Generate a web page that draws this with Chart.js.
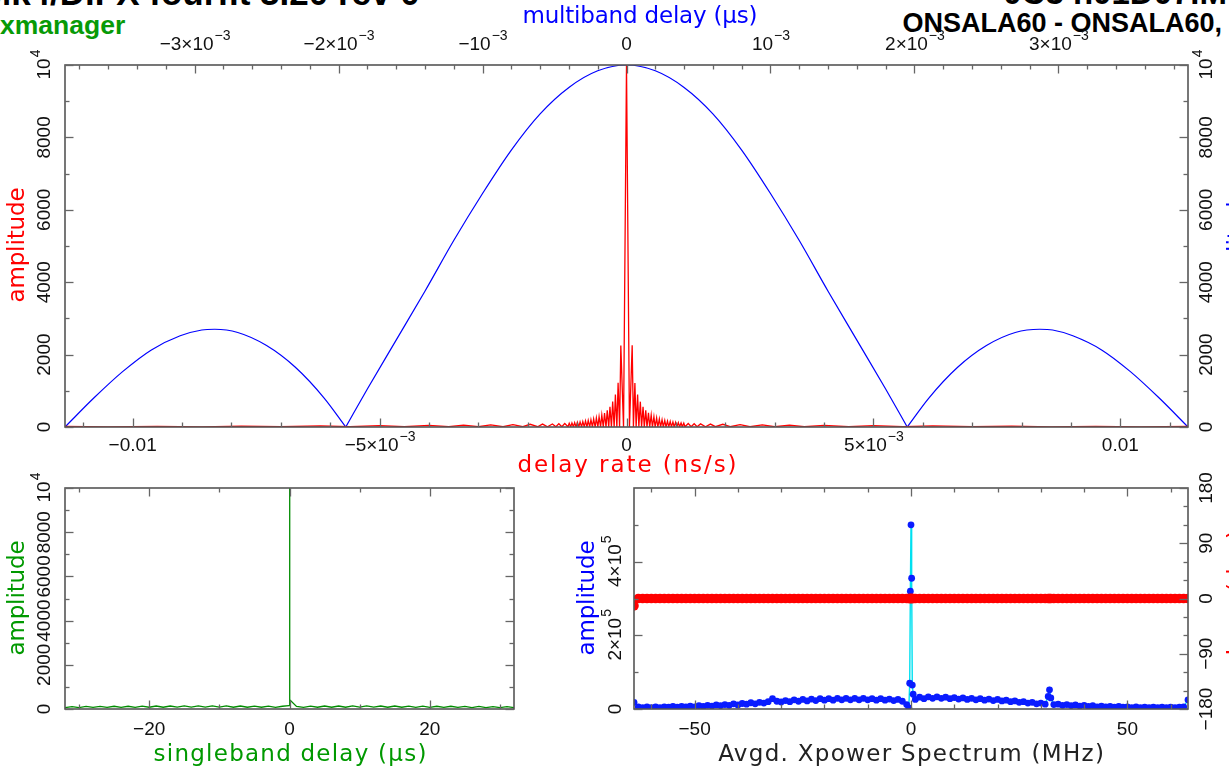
<!DOCTYPE html>
<html>
<head>
<meta charset="utf-8">
<script src="https://cdn.jsdelivr.net/npm/chart.js@4.4.1/dist/chart.umd.min.js"></script>
<style>
body { margin: 0; width: 1229px; height: 771px; overflow: hidden; background: #fff; position: relative; font-family: "Liberation Sans", Arial, sans-serif; }
canvas { position: absolute; left: 0; top: 0; }
.hd { position: absolute; font-weight: bold; white-space: nowrap; line-height: 1; }
</style>
</head>
<body>
<div class="hd" style="left:-18px;top:-25px;font-size:35px;color:#000">Mk4/DiFX fourfit 3.20 rev 0</div>
<div class="hd" style="right:2px;top:-24px;font-size:33px;color:#000">0C3 h01D07.M</div>
<div class="hd" style="left:0;top:12px;font-size:26.5px;color:#079a07">xmanager</div>
<div class="hd" style="right:7px;top:10px;font-size:27px;color:#000">ONSALA60 - ONSALA60,</div>
<canvas id="top" width="1229" height="771"></canvas>
<canvas id="sbd" width="1229" height="771"></canvas>
<canvas id="xps" width="1229" height="771"></canvas>
<script>
// delay rate function, x in units of 1e-5 ns/s
const rateShift = [
    -1140, -1050, -950, -860, -780, -700, -620, -560, -500, -450,
    -400, -360, -330, -300, -275, -250, -230, -210, -195, -180,
    -170, -160, -150, -143, -137, -131, -125, -118.5, -116, -113,
    -110.5, -107.5, -105, -102, -99.5, -96.5, -94, -91, -88.5, -85.5,
    -83, -80, -77.5, -74.5, -72, -69, -66.5, -63.5, -61, -58,
    -55.5, -52.5, -50, -47, -44.5, -41.5, -39, -36, -33.5, -30.5,
    -28, -25, -22.5, -19.5, -17, -14, -11.5, -6,
    0,
    6, 11.5, 14, 17, 19.5, 22.5, 25, 28, 30.5, 33.5,
    36, 39, 41.5, 44.5, 47, 50, 52.5, 55.5, 58, 61,
    63.5, 66.5, 69, 72, 74.5, 77.5, 80, 83, 85.5, 88.5,
    91, 94, 96.5, 99.5, 102, 105, 107.5, 110.5, 113, 116,
    118.5, 125, 131, 137, 143, 150, 160, 170, 180, 195,
    210, 230, 250, 275, 300, 330, 360, 400, 450, 500,
    560, 620, 700, 780, 860, 950, 1040, 1140
]
const rateAmp = [
    14, 5, 18, 6, 24, 7, 30, 8, 38, 8,
    44, 9, 50, 9, 58, 9, 65, 9, 75, 8,
    80, 7, 85, 9, 90, 7, 96, 6, 104, 4,
    113, 5, 121, 4, 129, 5, 141, 4, 151, 6,
    167, 5, 181, 0, 201, 0, 221, 0, 252, 0,
    284, 0, 332, 0, 388, 0, 462, 0, 558, 0,
    705, 0, 895, 0, 1220, 0, 2250, 0,
    10000,
    0, 2260, 0, 1215, 0, 900, 0, 700, 0, 560,
    0, 460, 0, 390, 0, 330, 0, 285, 0, 250,
    0, 222, 0, 200, 0, 182, 5, 166, 5, 152,
    5, 140, 5, 130, 5, 120, 5, 112, 5, 105,
    5, 95, 8, 90, 8, 86, 8, 80, 9, 75,
    9, 65, 9, 58, 9, 50, 9, 44, 8, 38,
    8, 30, 7, 24, 6, 18, 5, 14
]

// multiband delay function, x in units of 1e-3 us (null splits the lobes)
const mbdDelay = [
    -3.9, -3.7, -3.5, -3.3, -3.1, -2.95, -2.86, -2.7, -2.5, -2.3, -2.1, -1.95,
    -1.95,
    -1.95, -1.8, -1.6, -1.4, -1.2, -1.0, -0.8, -0.6, -0.4, -0.2, 0,
    0.2, 0.4, 0.6, 0.8, 1.0, 1.2, 1.4, 1.6, 1.8, 1.95,
    1.95,
    1.95, 2.1, 2.3, 2.5, 2.7, 2.87, 2.96, 3.1, 3.3, 3.5, 3.7, 3.9
]
const mbdAmp = [
    0, 800, 1530, 2130, 2520, 2680, 2700, 2610, 2250, 1650, 800, 0,
    null,
    0, 1050, 2400, 3750, 5150, 6450, 7650, 8650, 9380, 9840, 10000,
    9840, 9380, 8650, 7650, 6450, 5150, 3750, 2400, 1050, 0,
    null,
    0, 800, 1650, 2250, 2610, 2700, 2680, 2520, 2130, 1530, 800, 0
]

// singleband delay function, us
const sbdDelay = [
    -32, -31, -30, -29, -28, -27, -26, -25, -24, -23, -22, -21, -20, -19, -18, -17,
    -16, -15, -14, -13, -12, -11, -10, -9, -8, -7, -6, -5, -4, -3, -2, -1,
    -0.06, 0, 0.06,
    1, 2, 3, 4, 5, 6, 7, 8, 9, 10, 11, 12, 13, 14, 15, 16,
    17, 18, 19, 20, 21, 22, 23, 24, 25, 26, 27, 28, 29, 30, 31, 32
]
const sbdAmp = [
    60, 110, 65, 115, 70, 120, 70, 125, 75, 125, 75, 130, 80, 135, 80, 135,
    85, 140, 85, 140, 85, 140, 85, 140, 80, 135, 80, 130, 80, 130, 75, 125,
    150, 10000, 420,
    120, 75, 130, 80, 135, 80, 135, 80, 140, 85, 140, 85, 135, 80, 135, 80,
    130, 75, 130, 75, 125, 70, 125, 70, 120, 65, 115, 65, 110, 60, 105, 60
]

// averaged cross power spectrum: MHz, amplitude in 1e4, phase in deg
const specFreq = [
    -64, -63, -62, -61, -60, -59, -58, -57, -56, -55, -54, -53, -52, -51, -50, -49,
    -48, -47, -46, -45, -44, -43, -42, -41, -40, -39, -38, -37, -36, -35, -34, -33,
    -32, -31, -30, -29, -28, -27, -26, -25, -24, -23, -22, -21, -20, -19, -18, -17,
    -16, -15, -14, -13, -12, -11, -10, -9, -8, -7, -6, -5, -4, -3, -2, -1,
    -0.5, -0.3, -0.15, 0, 0.15, 0.3, 0.5,
    1, 2, 3, 4, 5, 6, 7, 8, 9, 10, 11, 12, 13, 14, 15, 16,
    17, 18, 19, 20, 21, 22, 23, 24, 25, 26, 27, 28, 29, 30, 31,
    31.7, 32, 32.3,
    33, 34, 35, 36, 37, 38, 39, 40, 41, 42, 43, 44, 45, 46, 47, 48,
    49, 50, 51, 52, 53, 54, 55, 56, 57, 58, 59, 60, 61, 62, 63, 64
]
const specAmp = [
    1.8, 0.6, 0.4, 0.6, 0.4, 0.6, 0.4, 0.6, 0.5, 0.7, 0.5, 0.7, 0.6, 0.8, 0.6, 0.9,
    0.7, 1.0, 0.8, 1.1, 0.9, 1.2, 1.0, 1.4, 1.1, 1.5, 1.3, 1.7, 1.4, 1.8, 1.6, 2.0,
    2.8, 2.1, 1.9, 2.3, 2.0, 2.5, 2.1, 2.6, 2.2, 2.7, 2.3, 2.8, 2.4, 2.8, 2.4, 2.9,
    2.5, 2.9, 2.5, 2.9, 2.5, 2.9, 2.5, 2.8, 2.4, 2.8, 2.4, 2.7, 2.3, 2.6, 2.1, 1.2,
    0.3, 7.0, 32, 50, 35.5, 6.5, 4.0,
    2.6, 3.2, 2.8, 3.3, 2.9, 3.3, 2.9, 3.2, 2.8, 3.1, 2.7, 3.0, 2.6, 2.9, 2.5, 2.8,
    2.4, 2.7, 2.3, 2.6, 2.2, 2.4, 2.0, 2.2, 1.8, 2.0, 1.6, 1.8, 1.4, 1.6, 1.3,
    3.4, 5.2, 3.0,
    1.2, 1.3, 1.0, 1.2, 0.9, 1.1, 0.8, 1.0, 0.7, 0.9, 0.6, 0.8, 0.6, 0.7, 0.5, 0.7,
    0.5, 0.6, 0.4, 0.6, 0.4, 0.5, 0.4, 0.5, 0.4, 0.5, 0.4, 0.5, 0.4, 0.5, 0.6, 2.5
]
const specPhase = [
    -12, 0, 0, 0, 0, 0, 0, 0, 0, 0, 0, 0, 0, 0, 0, 0,
    0, 0, 0, 0, 0, 0, 0, 0, 0, 0, 0, 0, 0, 0, 0, 0,
    0, 0, 0, 0, 0, 0, 0, 0, 0, 0, 0, 0, 0, 0, 0, 0,
    0, 0, 0, 0, 0, 0, 0, 0, 0, 0, 0, 0, 0, 0, 0, 0,
    0, 0, 0, 0, 0, 0, 0,
    0, 0, 0, 0, 0, 0, 0, 0, 0, 0, 0, 0, 0, 0, 0, 0,
    0, 0, 0, 0, 0, 0, 0, 0, 0, 0, 0, 0, 0, 0, 0,
    0, 0, 0,
    0, 0, 0, 0, 0, 0, 0, 0, 0, 0, 0, 0, 0, 0, 0, 0,
    0, 0, 0, 0, 0, 0, 0, 0, 0, 0, 0, 0, 0, 0, 0, 0
]

// ticks and tick labels
const rateTicks = [-1000, -500, 0, 500, 1000]
const rateLabels = ['−0.01', '−5×10^−3', '0', '5×10^−3', '0.01']
const rateMinor = [-1100, -900, -800, -700, -600, -400, -300, -200, -100, 100, 200, 300, 400, 600, 700, 800, 900, 1100]
const mbdTicks = [-3, -2, -1, 0, 1, 2, 3]
const mbdLabels = ['−3×10^−3', '−2×10^−3', '−10^−3', '0', '10^−3', '2×10^−3', '3×10^−3']
const mbdMinor = [-3.8, -3.6, -3.4, -3.2, -2.8, -2.6, -2.4, -2.2, -1.8, -1.6, -1.4, -1.2, -0.8, -0.6, -0.4, -0.2,
    0.2, 0.4, 0.6, 0.8, 1.2, 1.4, 1.6, 1.8, 2.2, 2.4, 2.6, 2.8, 3.2, 3.4, 3.6, 3.8]
const ampTicks = [0, 2000, 4000, 6000, 8000, 10000]
const ampLabels = ['0', '2000', '4000', '6000', '8000', '10^4']
const ampMinor = [1000, 3000, 5000, 7000, 9000]
const sbdTicks = [-20, 0, 20]
const sbdLabels = ['−20', '0', '20']
const sbdMinor = [-30, -10, 10, 30]
const freqTicks = [-50, 0, 50]
const freqLabels = ['−50', '0', '50']
const freqMinor = [-60, -40, -30, -20, -10, 10, 20, 30, 40, 60]
const xpAmpTicks = [0, 20, 40]
const xpAmpLabels = ['0', '2×10^5', '4×10^5']
const xpAmpMinor = [10, 30, 50]
const phaseTicks = [-180, -90, 0, 90, 180]
const phaseLabels = ['−180', '−90', '0', '90', '180']
const phaseMinor = [-150, -120, -60, -30, 30, 60, 120, 150]

const TICK_FONT = '"Liberation Sans", Arial, sans-serif'
const TICK_SIZE = 19
const TITLE_FONT = '"DejaVu Sans", sans-serif'

// text centred on (x, y); "a^b" draws b as a superscript; optional target width w
function drawText(ctx, text, x, y, rot, size, family, w) {
    const parts = text.split('^')
    const ss = Math.round(size * 0.72)
    ctx.save()
    ctx.translate(x, y)
    if (rot) ctx.rotate(-Math.PI / 2)
    ctx.textBaseline = 'middle'
    ctx.textAlign = 'left'
    ctx.font = size + 'px ' + family
    let ls = 0
    if (w) {
        const m = ctx.measureText(parts[0]).width
        ls = (w - m) / parts[0].length
        ctx.letterSpacing = ls + 'px'
    }
    const w0 = ctx.measureText(parts[0]).width - ls
    let w1 = 0
    if (parts[1]) {
        ctx.font = ss + 'px ' + family
        w1 = ctx.measureText(parts[1]).width
    }
    const x0 = -(w0 + w1) / 2
    ctx.font = size + 'px ' + family
    ctx.fillText(parts[0], x0, 0)
    if (parts[1]) {
        ctx.font = ss + 'px ' + family
        ctx.fillText(parts[1], x0 + w0 + 1, -size * 0.45)
    }
    ctx.restore()
}

// PGPLOT-like box: frame, inward ticks, labels and axis titles
const pgBox = {
    id: 'pgBox',
    afterDatasetsDraw(chart, args, opts) {
        const ctx = chart.ctx
        const a = chart.chartArea
        ctx.save()
        ctx.strokeStyle = '#555'
        ctx.lineWidth = 1.6
        ctx.strokeRect(a.left, a.top, a.right - a.left, a.bottom - a.top)
        ctx.strokeStyle = '#666'
        ctx.lineWidth = 1.3
        opts.axes.forEach(function (ax) {
            const sc = chart.scales[ax.scale]
            ax.sides.forEach(function (side) {
                const mark = function (v, len) {
                    const p = Math.round(sc.getPixelForValue(v)) + 0.5
                    ctx.beginPath()
                    if (side === 'bottom') { ctx.moveTo(p, a.bottom); ctx.lineTo(p, a.bottom - len) }
                    if (side === 'top') { ctx.moveTo(p, a.top); ctx.lineTo(p, a.top + len) }
                    if (side === 'left') { ctx.moveTo(a.left, p); ctx.lineTo(a.left + len, p) }
                    if (side === 'right') { ctx.moveTo(a.right, p); ctx.lineTo(a.right - len, p) }
                    ctx.stroke()
                }
                ax.minor.forEach(function (v) { mark(v, 4.5) })
                ax.major.forEach(function (v) { mark(v, 8.5) })
            })
            ctx.fillStyle = '#111'
            ax.labels.forEach(function (t, i) {
                const p = sc.getPixelForValue(ax.major[i])
                const d = ax.gap
                if (ax.labelSide === 'bottom') drawText(ctx, t, p, a.bottom + d, false, TICK_SIZE, TICK_FONT)
                if (ax.labelSide === 'top') drawText(ctx, t, p, a.top - d, false, TICK_SIZE, TICK_FONT)
                if (ax.labelSide === 'left') drawText(ctx, t, a.left - d, p, true, TICK_SIZE, TICK_FONT)
                if (ax.labelSide === 'right') drawText(ctx, t, a.right + d, p, true, TICK_SIZE, TICK_FONT)
            })
        })
        opts.titles.forEach(function (t) {
            ctx.fillStyle = t.color
            drawText(ctx, t.text, t.x, t.y, t.rot, t.size, TITLE_FONT, t.w)
        })
        ctx.restore()
    }
}

function points(xs, ys) {
    return xs.map(function (x, i) { return { x: x, y: ys[i] } })
}

function hiddenLinear(min, max, position) {
    return { type: 'linear', min: min, max: max, position: position, display: false }
}

function makeChart(id, padding, datasets, scales, box) {
    return new Chart(document.getElementById(id), {
        type: 'line',
        data: { datasets: datasets },
        options: {
            responsive: false,
            animation: false,
            events: [],
            layout: { padding: padding },
            plugins: { legend: { display: false }, tooltip: { enabled: false }, pgBox: box },
            scales: scales
        },
        plugins: [pgBox]
    })
}

// fringe rate / multiband delay panel
makeChart('top', { left: 65, top: 65, right: 41, bottom: 344 }, [
    {
        data: points(rateShift, rateAmp), xAxisID: 'x', yAxisID: 'y',
        borderColor: '#ff0000', borderWidth: 1.3, pointRadius: 0, tension: 0
    },
    {
        data: points(mbdDelay, mbdAmp), xAxisID: 'x2', yAxisID: 'y',
        borderColor: '#0000ff', borderWidth: 1.2, pointRadius: 0,
        cubicInterpolationMode: 'monotone', spanGaps: false
    }
], {
    x: hiddenLinear(-1137, 1137, 'bottom'),
    x2: hiddenLinear(-3.9, 3.9, 'top'),
    y: hiddenLinear(0, 10000, 'left')
}, {
    axes: [
        { scale: 'x', sides: ['bottom'], major: rateTicks, minor: rateMinor, labels: rateLabels, labelSide: 'bottom', gap: 19 },
        { scale: 'x2', sides: ['top'], major: mbdTicks, minor: mbdMinor, labels: mbdLabels, labelSide: 'top', gap: 20 },
        { scale: 'y', sides: ['left'], major: ampTicks, minor: ampMinor, labels: ampLabels, labelSide: 'left', gap: 20 },
        { scale: 'y', sides: ['right'], major: ampTicks, minor: ampMinor, labels: ampLabels, labelSide: 'right', gap: 19 }
    ],
    titles: [
        { text: 'multiband delay (μs)', x: 640, y: 17, rot: false, size: 23, w: 235, color: '#0000ff' },
        { text: 'delay rate (ns/s)', x: 627, y: 466, rot: false, size: 23, w: 221, color: '#ff0000' },
        { text: 'amplitude', x: 18, y: 245, rot: true, size: 23, w: 115, color: '#ff0000' },
        { text: 'amplitude', x: 1238, y: 245, rot: true, size: 23, w: 115, color: '#0000ff' }
    ]
})

// singleband delay panel
makeChart('sbd', { left: 65, top: 488, right: 715, bottom: 62 }, [
    {
        data: points(sbdDelay, sbdAmp), xAxisID: 'x', yAxisID: 'y',
        borderColor: '#008c00', borderWidth: 1.3, pointRadius: 0, tension: 0
    }
], {
    x: hiddenLinear(-32, 32, 'bottom'),
    y: hiddenLinear(0, 10000, 'left')
}, {
    axes: [
        { scale: 'x', sides: ['bottom', 'top'], major: sbdTicks, minor: sbdMinor, labels: sbdLabels, labelSide: 'bottom', gap: 21 },
        { scale: 'y', sides: ['left', 'right'], major: ampTicks, minor: ampMinor, labels: ampLabels, labelSide: 'left', gap: 20 }
    ],
    titles: [
        { text: 'amplitude', x: 18, y: 598, rot: true, size: 23, w: 115, color: '#009900' },
        { text: 'singleband delay (μs)', x: 290, y: 755, rot: false, size: 23, w: 274, color: '#009900' }
    ]
})

// cross power spectrum panel
makeChart('xps', { left: 634, top: 488, right: 41, bottom: 62 }, [
    {
        data: points(specFreq, specPhase), xAxisID: 'x', yAxisID: 'y2',
        showLine: false, pointRadius: 4.8, pointBorderWidth: 0, pointBackgroundColor: '#ff0000'
    },
    {
        data: points(specFreq, specAmp), xAxisID: 'x', yAxisID: 'y',
        borderColor: '#00e0f0', borderWidth: 1.4, tension: 0,
        pointRadius: 3.4, pointBorderWidth: 0, pointBackgroundColor: '#0a1cff'
    }
], {
    x: hiddenLinear(-64, 64, 'bottom'),
    y: hiddenLinear(0, 60, 'left'),
    y2: hiddenLinear(-180, 180, 'right')
}, {
    axes: [
        { scale: 'x', sides: ['bottom', 'top'], major: freqTicks, minor: freqMinor, labels: freqLabels, labelSide: 'bottom', gap: 21 },
        { scale: 'y', sides: ['left'], major: xpAmpTicks, minor: xpAmpMinor, labels: xpAmpLabels, labelSide: 'left', gap: 18 },
        { scale: 'y2', sides: ['right'], major: phaseTicks, minor: phaseMinor, labels: phaseLabels, labelSide: 'right', gap: 19 }
    ],
    titles: [
        { text: 'amplitude', x: 588, y: 598, rot: true, size: 23, w: 115, color: '#0000ff' },
        { text: 'Avgd. Xpower Spectrum (MHz)', x: 911, y: 755, rot: false, size: 23, w: 387, color: '#222' },
        { text: 'phase (deg)', x: 1238, y: 600, rot: true, size: 23, w: 140, color: '#ff0000' }
    ]
})
</script>
</body>
</html>
